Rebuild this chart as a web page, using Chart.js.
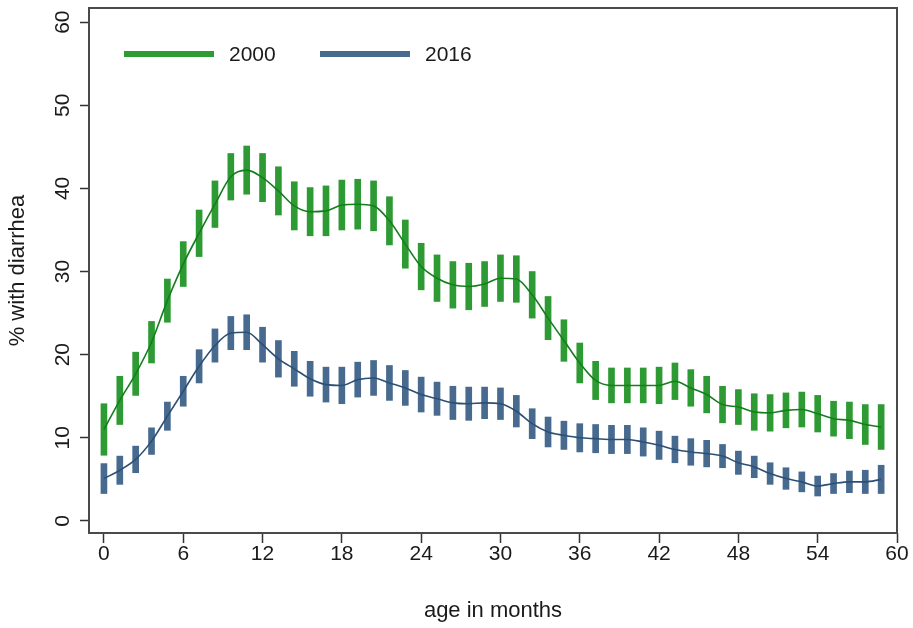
<!DOCTYPE html>
<html>
<head>
<meta charset="utf-8">
<script src="https://cdn.jsdelivr.net/npm/chart.js@4.4.1/dist/chart.umd.min.js"></script>
<style>
  html, body { margin: 0; padding: 0; background: #ffffff; }
  canvas { display: block; }
</style>
</head>
<body>
<canvas id="c" width="913" height="628"></canvas>
<script>
// Age of the child (months), one estimate every 0.1 year
const ages = [0, 1.2, 2.4, 3.6, 4.8, 6, 7.2, 8.4, 9.6, 10.8,
  12, 13.2, 14.4, 15.6, 16.8, 18, 19.2, 20.4, 21.6, 22.8,
  24, 25.2, 26.4, 27.6, 28.8, 30, 31.2, 32.4, 33.6, 34.8,
  36, 37.2, 38.4, 39.6, 40.8, 42, 43.2, 44.4, 45.6, 46.8,
  48, 49.2, 50.4, 51.6, 52.8, 54, 55.2, 56.4, 57.6, 58.8];

// Share of children with diarrhea (%) and half-width of the 95% CI
const pct2000 = [11.0, 14.5, 17.7, 21.5, 26.5, 30.9, 34.6, 38.1, 41.4, 42.2,
  41.3, 39.7, 37.9, 37.2, 37.3, 38.0, 38.1, 37.9, 36.1, 33.3,
  30.6, 29.2, 28.4, 28.2, 28.5, 29.2, 29.1, 27.2, 24.4, 21.7,
  19.0, 16.9, 16.3, 16.3, 16.3, 16.3, 16.8, 16.0, 15.2, 14.0,
  13.7, 13.1, 13.0, 13.3, 13.4, 12.9, 12.3, 12.1, 11.6, 11.3];
const ci2000 = [3.1, 2.9, 2.6, 2.5, 2.6, 2.7, 2.8, 2.8, 2.8, 2.9,
  2.9, 2.9, 2.9, 2.9, 3.0, 3.0, 3.0, 3.0, 2.9, 2.9,
  2.8, 2.8, 2.8, 2.8, 2.7, 2.8, 2.8, 2.8, 2.6, 2.5,
  2.4, 2.3, 2.1, 2.1, 2.1, 2.2, 2.2, 2.2, 2.2, 2.2,
  2.1, 2.2, 2.2, 2.1, 2.1, 2.2, 2.1, 2.2, 2.4, 2.7];

const pct2016 = [5.1, 6.1, 7.4, 9.6, 12.6, 15.6, 18.6, 21.1, 22.6, 22.7,
  21.2, 19.5, 18.3, 17.1, 16.4, 16.3, 17.0, 17.2, 16.6, 16.0,
  15.2, 14.7, 14.2, 14.1, 14.2, 14.1, 13.2, 11.7, 10.7, 10.3,
  10.0, 9.9, 9.8, 9.8, 9.5, 9.1, 8.6, 8.3, 8.1, 7.8,
  7.0, 6.5, 5.7, 5.1, 4.7, 4.2, 4.5, 4.7, 4.7, 5.0];
const ci2016 = [1.8, 1.7, 1.6, 1.6, 1.7, 1.8, 2.0, 2.0, 2.0, 2.1,
  2.1, 2.2, 2.1, 2.1, 2.1, 2.2, 2.1, 2.1, 2.1, 2.1,
  2.1, 2.0, 2.0, 2.0, 1.9, 1.9, 1.9, 1.8, 1.8, 1.7,
  1.7, 1.7, 1.7, 1.7, 1.7, 1.7, 1.6, 1.6, 1.6, 1.4,
  1.4, 1.3, 1.3, 1.3, 1.2, 1.2, 1.2, 1.3, 1.4, 1.7];

const seriesNames = ['2000', '2016'];
const xTickValues = [0, 6, 12, 18, 24, 30, 36, 42, 48, 54, 60];
const yTickValues = [0, 10, 20, 30, 40, 50, 60];

const GREEN_BAR = '#2e9a34';
const GREEN_LINE = '#137f1a';
const BLUE_BAR = '#476a8e';
const BLUE_LINE = '#2c4f75';
const FONT = "'Liberation Sans', Arial, sans-serif";
const TEXT = '#1a1a1a';

function ciBars(vals, half) {
  return ages.map((a, i) => ({ x: a, y: [vals[i] - half[i], vals[i] + half[i]] }));
}
function points(vals) {
  return ages.map((a, i) => ({ x: a, y: vals[i] }));
}

// Plot-region outline drawn around the chart area
const frame = {
  id: 'frame',
  afterDraw(chart) {
    const { ctx, chartArea: a } = chart;
    ctx.save();
    ctx.strokeStyle = '#4a4a4a';
    ctx.lineWidth = 2;
    ctx.strokeRect(a.left, a.top, a.right - a.left, a.bottom - a.top);
    ctx.restore();
  }
};

// Legend placed inside the plot region, one line sample per series
const innerLegend = {
  id: 'innerLegend',
  afterDatasetsDraw(chart) {
    const { ctx, chartArea: a } = chart;
    const lines = chart.data.datasets.filter(d => d.type === 'line');
    ctx.save();
    ctx.font = "21px " + FONT;
    ctx.textBaseline = 'middle';
    let x = a.left + 35;
    const y = a.top + 46;
    lines.forEach(d => {
      ctx.fillStyle = d.legendColor;
      ctx.fillRect(x, y - 3, 90, 6);
      ctx.fillStyle = TEXT;
      ctx.fillText(d.label, x + 105, y + 1);
      x += 196;
    });
    ctx.restore();
  }
};

new Chart(document.getElementById('c'), {
  data: {
    datasets: [
      { type: 'line', label: seriesNames[0], data: points(pct2000), borderColor: GREEN_LINE,
        borderWidth: 1.6, pointRadius: 0, cubicInterpolationMode: 'monotone', order: 0,
        legendColor: GREEN_BAR },
      { type: 'line', label: seriesNames[1], data: points(pct2016), borderColor: BLUE_LINE,
        borderWidth: 1.6, pointRadius: 0, cubicInterpolationMode: 'monotone', order: 0,
        legendColor: BLUE_BAR },
      { type: 'bar', label: seriesNames[0] + ' CI', data: ciBars(pct2000, ci2000),
        backgroundColor: GREEN_BAR, borderWidth: 0, barThickness: 6, grouped: false, order: 1 },
      { type: 'bar', label: seriesNames[1] + ' CI', data: ciBars(pct2016, ci2016),
        backgroundColor: BLUE_BAR, borderWidth: 0, barThickness: 6, grouped: false, order: 1 }
    ]
  },
  options: {
    responsive: false,
    animation: false,
    devicePixelRatio: 1,
    layout: { padding: { top: 8, right: 16, left: 0, bottom: 0 } },
    plugins: { legend: { display: false }, tooltip: { enabled: false } },
    scales: {
      x: {
        type: 'linear',
        min: -1.13,
        max: 60,
        offset: false,
        afterBuildTicks: s => { s.ticks = xTickValues.map(v => ({ value: v })); },
        afterFit: s => { s.height = 95; s.paddingLeft = 0; s.paddingRight = 0; },
        grid: { offset: false, drawOnChartArea: false, drawTicks: true, tickLength: 10,
                tickWidth: 1.5, tickColor: '#333' },
        border: { display: false },
        ticks: { color: TEXT, font: { family: FONT, size: 21, lineHeight: 1 }, padding: 1, maxRotation: 0 },
        title: { display: true, text: 'age in months', color: TEXT,
                 font: { family: FONT, size: 22, lineHeight: 1.2 }, padding: { top: 0, bottom: 4 } }
      },
      y: {
        type: 'linear',
        min: -1.45,
        max: 61.7,
        afterBuildTicks: s => { s.ticks = yTickValues.map(v => ({ value: v })); },
        afterFit: s => { s.width = 89; s.paddingTop = 0; s.paddingBottom = 0; },
        grid: { drawOnChartArea: false, drawTicks: true, tickLength: 9, tickWidth: 1.5, tickColor: '#333' },
        border: { display: false },
        ticks: { color: TEXT, font: { family: FONT, size: 21, lineHeight: 1 }, padding: 5,
                 minRotation: 90, maxRotation: 90, crossAlign: 'center' },
        title: { display: true, text: '% with diarrhea', color: TEXT,
                 font: { family: FONT, size: 22, lineHeight: 1.2 }, padding: { top: 5, bottom: 0 } }
      }
    }
  },
  plugins: [frame, innerLegend]
});
</script>
</body>
</html>
